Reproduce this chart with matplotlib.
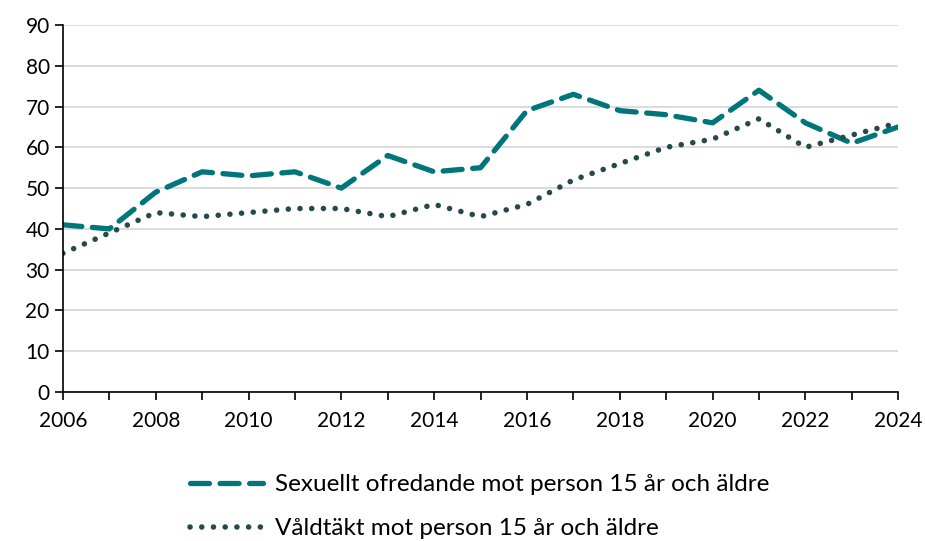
import matplotlib.pyplot as plt
from matplotlib.ticker import MultipleLocator

plt.rcParams['font.family'] = ['Lato', 'DejaVu Sans']

years = list(range(2006, 2025))
ofredande = [41, 40, 49, 54, 53, 54, 50, 58, 54, 55, 69, 73, 69, 68, 66, 74, 66, 61, 65]
valdtakt = [34, 39, 44, 43, 44, 45, 45, 43, 46, 43, 46, 52, 56, 60, 62, 67, 60, 63, 66]
labels = ["Sexuellt ofredande mot person 15 år och äldre",
          "Våldtäkt mot person 15 år och äldre"]

fig = plt.figure(figsize=(9.25, 5.41), dpi=100)
ax = fig.add_axes([0.068, 0.2754, 0.903, 0.6784])

ax.plot(years, ofredande, color="#00767a", lw=3.8, dashes=(3.6, 2.0),
        solid_capstyle="round", dash_capstyle="round", label=labels[0])
ax.plot(years, valdtakt, color="#264a4c", lw=4.0, dashes=(0.01, 2.1),
        dash_capstyle="round", label=labels[1])

ax.set_xlim(2006, 2024)
ax.set_ylim(0, 90)
ax.yaxis.set_major_locator(MultipleLocator(10))
ax.xaxis.set_major_locator(MultipleLocator(2))
ax.xaxis.set_minor_locator(MultipleLocator(1))
ax.grid(axis="y", color="#d9d9d9", lw=1.3)
ax.set_axisbelow(True)
for s in ["top", "right"]:
    ax.spines[s].set_visible(False)
for s in ["left", "bottom"]:
    ax.spines[s].set_linewidth(1.2)
ax.tick_params(axis="both", which="both", direction="out", length=6, width=1.2,
               labelsize=15)
ax.tick_params(axis="x", which="major", pad=8)

fig.legend(loc="upper left", bbox_to_anchor=(0.182, 0.164), ncol=1, frameon=False,
           fontsize=17.5, handlelength=3.0, handletextpad=0.5, labelspacing=0.95)

fig.savefig("out.png", dpi=100)
